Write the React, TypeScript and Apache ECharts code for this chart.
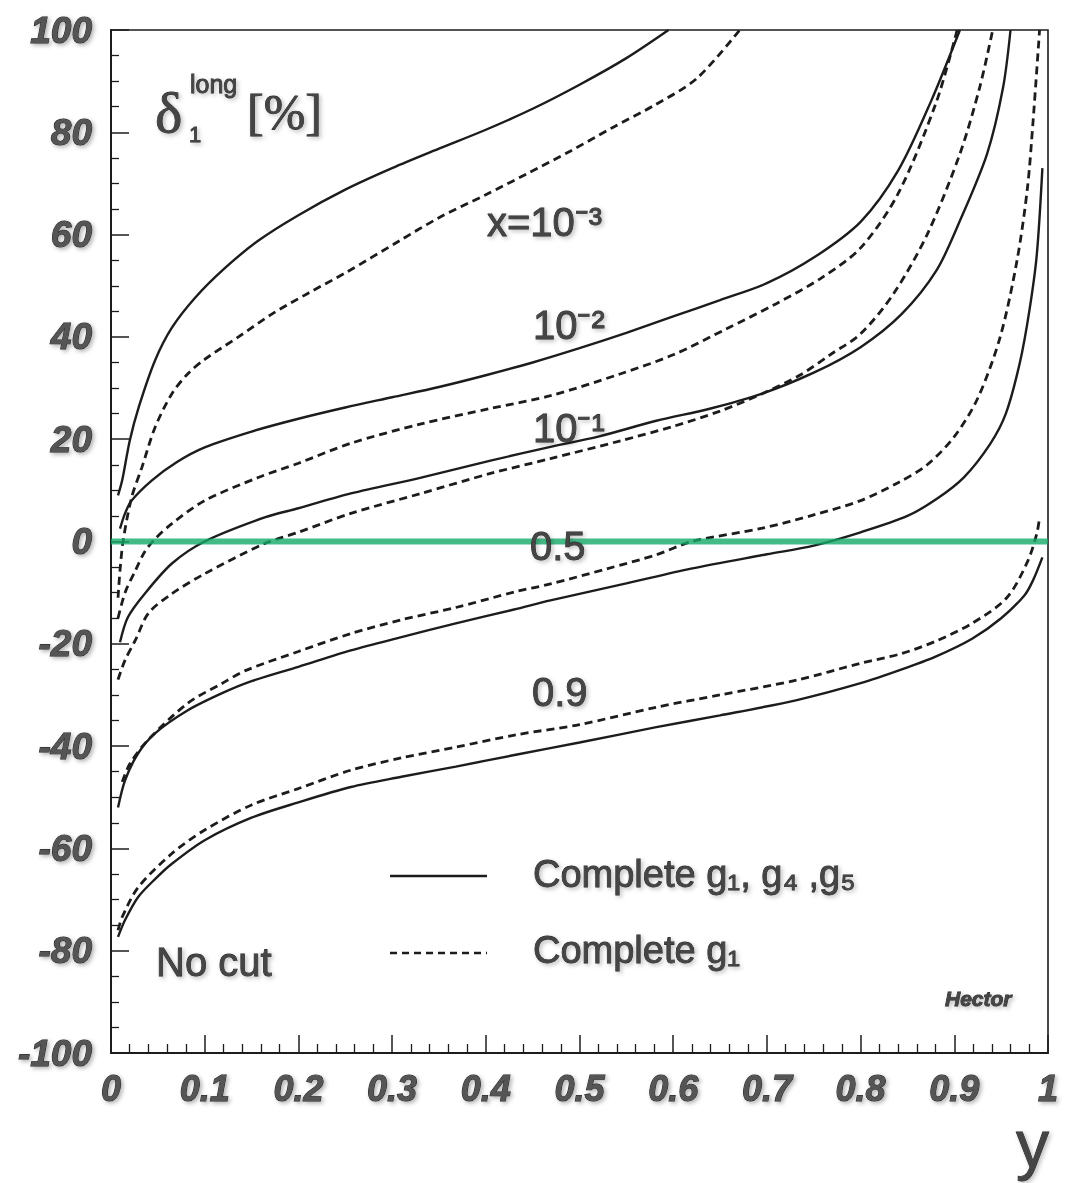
import React, { useEffect, useRef } from 'react';
import * as echarts from 'echarts';

// x = 1e-3
const solidX1e3: number[][] = [[0.0075,9],[0.012,12],[0.02,19.7],[0.03,26.5],[0.047,35.4],[0.065,41.8],[0.09,47.7],[0.12,53.2],[0.157,58.8],[0.2,63.8],[0.25,68.8],[0.3,73],[0.35,76.8],[0.4,80.5],[0.45,84.6],[0.5,89.3],[0.55,94.5],[0.595,100]];
const dashX1e3: number[][] = [[0.0075,-11],[0.0096,-5.7],[0.013,0.2],[0.022,8.6],[0.033,14.5],[0.047,22.3],[0.065,28.9],[0.082,32.8],[0.1,35.6],[0.136,40],[0.172,44.5],[0.21,48.5],[0.25,52.5],[0.308,58.8],[0.35,63.3],[0.4,67.8],[0.444,71.9],[0.49,76.3],[0.535,80.9],[0.58,85.3],[0.625,90.5],[0.671,100]];
// x = 1e-2
const solidX1e2: number[][] = [[0.0096,2.5],[0.015,5.5],[0.022,8],[0.044,12],[0.07,15.5],[0.1,18.4],[0.15,21.5],[0.2,24],[0.25,26.2],[0.3,28.2],[0.35,30.2],[0.4,32.5],[0.45,35],[0.5,37.8],[0.55,40.8],[0.6,44],[0.65,47.2],[0.7,50.5],[0.75,55.5],[0.8,62.5],[0.84,72.5],[0.875,86],[0.906,100]];
const dashX1e2: number[][] = [[0.0075,-15],[0.015,-10],[0.026,-5.7],[0.036,-2],[0.047,0.5],[0.065,3.5],[0.1,8],[0.157,12.5],[0.2,15.3],[0.256,19.2],[0.331,23],[0.405,26],[0.469,28.5],[0.544,32.8],[0.6,36.5],[0.656,41.5],[0.71,46.5],[0.758,51.5],[0.8,57.4],[0.84,68],[0.881,86],[0.903,100]];
// x = 1e-1
const solidX1e1: number[][] = [[0.0096,-19.7],[0.018,-14.8],[0.036,-10.2],[0.065,-4.3],[0.1,0],[0.164,4.7],[0.2,6.5],[0.256,9.4],[0.331,12.5],[0.405,15.8],[0.469,18.5],[0.52,20.5],[0.582,23.6],[0.64,26],[0.695,28.9],[0.75,33],[0.8,38],[0.844,44.5],[0.881,53],[0.906,62.7],[0.935,75.8],[0.952,88.7],[0.96,100]];
const dashX1e1: number[][] = [[0.0075,-27],[0.015,-23.2],[0.026,-19.3],[0.04,-14],[0.065,-10.2],[0.1,-6.3],[0.164,-0.4],[0.2,1.8],[0.256,5.5],[0.331,9.4],[0.405,13.3],[0.469,16.2],[0.544,19.7],[0.6,22.5],[0.65,25.5],[0.695,28.9],[0.735,32.5],[0.769,36.7],[0.8,40.6],[0.835,48.4],[0.871,60],[0.906,75.8],[0.927,88.7],[0.941,100]];
// x = 0.5
const solidX05: number[][] = [[0.0075,-52],[0.015,-46.7],[0.029,-41.4],[0.047,-37.5],[0.082,-33],[0.118,-29.7],[0.15,-27.3],[0.2,-24.5],[0.256,-21.3],[0.31,-18.7],[0.368,-16],[0.43,-13.3],[0.469,-11.5],[0.55,-8.2],[0.619,-5.3],[0.7,-2.5],[0.75,-0.8],[0.8,1.8],[0.85,5],[0.881,8.3],[0.91,12.5],[0.938,19],[0.955,25],[0.97,35],[0.98,45],[0.988,56],[0.994,73]];
const dashX05: number[][] = [[0.012,-47],[0.02,-43.5],[0.039,-38.9],[0.082,-31.6],[0.118,-27.8],[0.144,-25.2],[0.2,-21.5],[0.256,-18],[0.31,-15.3],[0.368,-12.9],[0.432,-9.8],[0.469,-8.3],[0.53,-5.3],[0.582,-2.6],[0.62,0],[0.695,2.6],[0.75,5.2],[0.8,8],[0.84,11.5],[0.871,15],[0.9,20.5],[0.925,28],[0.949,40],[0.967,55],[0.978,69],[0.984,82],[0.991,100]];
// x = 0.9
const solidX09: number[][] = [[0.0075,-77.3],[0.015,-74],[0.029,-69.5],[0.047,-66],[0.065,-63],[0.1,-58.4],[0.15,-54],[0.2,-51],[0.256,-48],[0.31,-46],[0.368,-44],[0.432,-41.7],[0.5,-39.3],[0.582,-36.3],[0.65,-34],[0.732,-31],[0.8,-27.7],[0.844,-25],[0.88,-22.5],[0.919,-19],[0.95,-15],[0.975,-10.5],[0.984,-7.6],[0.994,-3.1]];
const dashX09: number[][] = [[0.0075,-76],[0.012,-73.4],[0.029,-67.6],[0.065,-61],[0.1,-56.4],[0.15,-51.5],[0.2,-48.3],[0.256,-44.7],[0.31,-42.3],[0.368,-40.2],[0.432,-37.8],[0.5,-35.8],[0.582,-32.4],[0.65,-30],[0.732,-27.1],[0.8,-23.8],[0.844,-21.9],[0.88,-19.5],[0.919,-16],[0.956,-11],[0.978,-4],[0.988,1.5],[0.991,4.7]];

const zeroLine: number[][] = [[0, 0], [1, 0]];

const curveLabels = ['x=10⁻³', '10⁻²', '10⁻¹', '0.5', '0.9'];
const legendLabels = ['Complete g₁, g₄ ,g₅', 'Complete g₁'];

const INK = '#1c1c1c';

const tickFont = {
  fontFamily: 'Liberation Sans, Arial, sans-serif',
  fontWeight: 'bold' as const,
  fontStyle: 'italic' as const,
  color: '#555',
  textBorderColor: '#222',
  textBorderWidth: 1,
  textShadowColor: 'rgba(0,0,0,0.3)',
  textShadowBlur: 4,
  textShadowOffsetX: 2,
  textShadowOffsetY: 2,
};

function txt(text: string, x: number, y: number, size: number, extra: any = {}) {
  return {
    type: 'text',
    x,
    y,
    style: {
      text,
      fontSize: size,
      fontFamily: 'Liberation Sans, Arial, sans-serif',
      fill: '#444',
      stroke: '#222',
      lineWidth: 0.8,
      verticalAlign: 'middle',
      align: 'left',
      textShadowColor: 'rgba(0,0,0,0.25)',
      textShadowBlur: 4,
      textShadowOffsetX: 2,
      textShadowOffsetY: 2,
      ...extra,
    },
    z: 20,
  };
}

function line(name: string, data: number[][], dashed: boolean) {
  return {
    name,
    type: 'line',
    data,
    showSymbol: false,
    symbol: 'none',
    smooth: 0.3,
    clip: true,
    lineStyle: {
      color: INK,
      width: dashed ? 2.8 : 2.4,
      type: dashed ? [8, 5] : 'solid',
    },
    z: 3,
  };
}

export default function App() {
  const ref = useRef<HTMLDivElement>(null);
  useEffect(() => {
    const chart = echarts.init(ref.current!, null, { renderer: 'svg' });
    const option: any = {
      animation: false,
      backgroundColor: '#ffffff',
      grid: {
        left: 111,
        top: 30,
        width: 937,
        height: 1023,
        show: true,
        borderColor: INK,
        borderWidth: 1.6,
        backgroundColor: 'transparent',
      },
      xAxis: {
        type: 'value',
        min: 0,
        max: 1,
        interval: 0.1,
        axisLine: { show: true, onZero: false, lineStyle: { color: INK, width: 2 } },
        axisTick: { show: true, inside: true, length: 18, lineStyle: { color: INK, width: 1.5 } },
        minorTick: { show: true, splitNumber: 5, length: 9, lineStyle: { color: INK, width: 1.3 } },
        splitLine: { show: false },
        minorSplitLine: { show: false },
        axisLabel: {
          ...tickFont,
          fontSize: 36,
          margin: 17,
          showMinLabel: true,
          showMaxLabel: true,
          formatter: (v: number) => (v === 0 ? '0' : v === 1 ? '1' : v.toFixed(1)),
        },
      },
      yAxis: {
        type: 'value',
        min: -100,
        max: 100,
        interval: 20,
        axisLine: { show: true, onZero: false, lineStyle: { color: INK, width: 2 } },
        axisTick: { show: true, inside: true, length: 18, lineStyle: { color: INK, width: 1.5 } },
        minorTick: { show: true, splitNumber: 4, length: 8, lineStyle: { color: INK, width: 1.3 } },
        splitLine: { show: false },
        minorSplitLine: { show: false },
        axisLabel: {
          ...tickFont,
          fontSize: 37,
          margin: 19,
          showMinLabel: true,
          showMaxLabel: true,
          formatter: (v: number) => String(v),
        },
      },
      series: [
        line('x=1e-3 complete g1,g4,g5', solidX1e3, false),
        line('x=1e-3 complete g1', dashX1e3, true),
        line('x=1e-2 complete g1,g4,g5', solidX1e2, false),
        line('x=1e-2 complete g1', dashX1e2, true),
        line('x=1e-1 complete g1,g4,g5', solidX1e1, false),
        line('x=1e-1 complete g1', dashX1e1, true),
        line('x=0.5 complete g1,g4,g5', solidX05, false),
        line('x=0.5 complete g1', dashX05, true),
        line('x=0.9 complete g1,g4,g5', solidX09, false),
        line('x=0.9 complete g1', dashX09, true),
        {
          name: 'zero',
          type: 'line',
          data: zeroLine,
          showSymbol: false,
          symbol: 'none',
          lineStyle: { color: 'rgba(20,170,105,0.8)', width: 6 },
          z: 5,
        },
      ],
      graphic: [
        // delta label
        txt('δ', 155, 112, 58, { fontFamily: 'Liberation Serif, serif' }),
        txt('long', 190, 84, 25),
        txt('1', 189, 134, 22),
        txt('[%]', 247, 112, 50, { fontFamily: 'Liberation Serif, serif' }),
        // curve labels
        txt(curveLabels[0], 487, 222, 40),
        txt(curveLabels[1], 533, 325, 40),
        txt(curveLabels[2], 533, 428, 40),
        txt(curveLabels[3], 530, 546, 40),
        txt(curveLabels[4], 532, 692, 40),
        // legend
        {
          type: 'line',
          shape: { x1: 390, y1: 876, x2: 487, y2: 876 },
          style: { stroke: INK, lineWidth: 2.4 },
          z: 20,
        },
        {
          type: 'line',
          shape: { x1: 390, y1: 953, x2: 487, y2: 953 },
          style: { stroke: INK, lineWidth: 2.4, lineDash: [7, 5] },
          z: 20,
        },
        txt(legendLabels[0], 533, 874, 38),
        txt(legendLabels[1], 533, 950, 38),
        txt('No cut', 156, 962, 40),
        txt('Hector', 945, 998, 21, { fontWeight: 'bold', fontStyle: 'italic' }),
        txt('y', 1016, 1144, 66),
      ],
    };
    chart.setOption(option);
    return () => chart.dispose();
  }, []);
  return (
    <div
      ref={ref}
      style={{ position: 'absolute', left: 0, top: 0, width: 1066, height: 1183, background: '#fff' }}
    />
  );
}
